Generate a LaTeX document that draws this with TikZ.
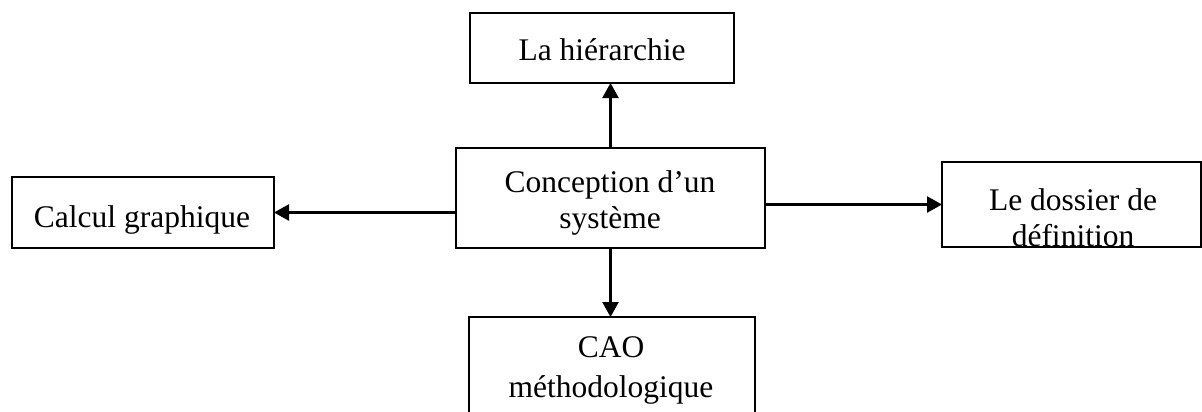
\documentclass[tikz,border=0pt]{standalone}
\usepackage{fontspec}
\setmainfont{Liberation Serif}
\usetikzlibrary{arrows.meta}
\begin{document}
\begin{tikzpicture}[x=1pt,y=-1pt,
  box/.style={draw,line width=2.9pt,inner sep=0pt,outer sep=0pt},
  lbl/.style={anchor=base,inner sep=0pt,font=\fontsize{31.5}{36}\selectfont},
  link/.style={line width=2.4pt,-{Triangle[length=15pt,width=16pt]}}]
  \clip (0,0) rectangle (1202,412);
  \fill[white] (0,0) rectangle (1202,412);

  % boxes
  \node[box,minimum width=264pt,minimum height=70pt]  (t) at (602,48) {};
  \node[box,minimum width=309pt,minimum height=100pt] (c) at (610.5,198) {};
  \node[box,minimum width=262pt,minimum height=71pt]  (l) at (143,212.5) {};
  \node[box,minimum width=259pt,minimum height=85pt]  (r) at (1071.5,204.5) {};
  \node[box,minimum width=286pt,minimum height=123pt] (b) at (612,378.5) {};

  % labels
  \node[lbl] (tt) at (602,60) {La hiérarchie};
  \node[lbl] (c1) at (610,192) {Conception d’un};
  \node[lbl] (c2) at (610,228) {système};
  \node[lbl] (lt) at (142,227) {Calcul graphique};
  \begin{scope}
    \clip (r.south west) ++(1.5,-1.5) rectangle (r.north east);
    \node[lbl] (r1) at (1073,210) {Le dossier de};
    \node[lbl] (r2) at (1073,246) {définition};
  \end{scope}
  \node[lbl] (b1) at (611,357) {CAO};
  \node[lbl] (b2) at (611,397) {méthodologique};

  % connectors
  \draw[link] (c.north) -- (c.north |- t.south);
  \draw[link] (c.south) -- (c.south |- b.north);
  \draw[link] (c.west |- l.east) -- (l.east);
  \draw[link] (c.east |- r.west) -- (r.west);
\end{tikzpicture}
\end{document}
